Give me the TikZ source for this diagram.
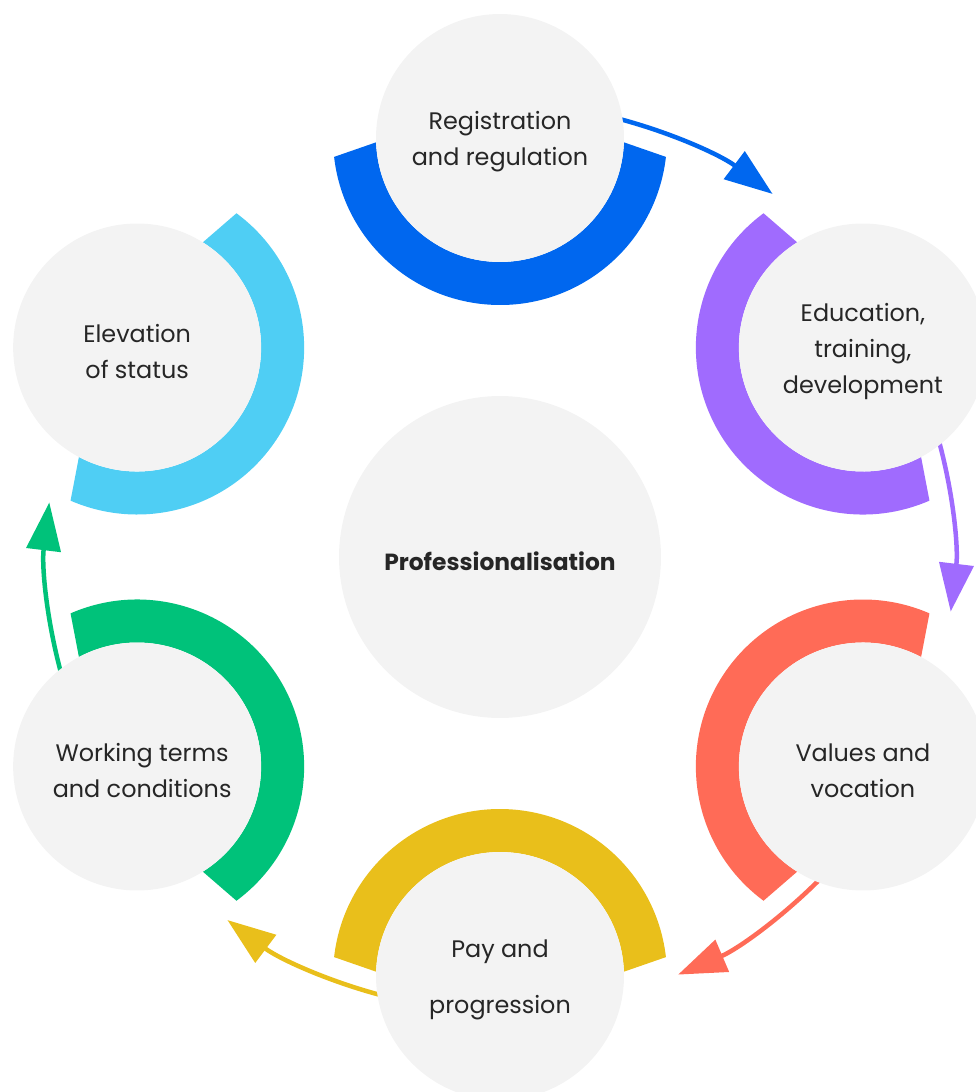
\documentclass[tikz,border=0pt]{standalone}
\usepackage{fontspec}
\setmainfont{Poppins}
\usetikzlibrary{arrows.meta,calc}

\definecolor{cblue}{HTML}{0067EF}
\definecolor{cpurple}{HTML}{A06BFE}
\definecolor{cred}{HTML}{FF6B57}
\definecolor{cyellow}{HTML}{E9BF1B}
\definecolor{cgreen}{HTML}{00C27A}
\definecolor{ccyan}{HTML}{4FCEF4}
\definecolor{discgray}{HTML}{F3F3F3}
\definecolor{ink}{HTML}{262626}

\begin{document}
\begin{tikzpicture}[x=0.02cm,y=-0.02cm,
  disc/.style={circle,fill=discgray,minimum size=4.96cm,inner sep=0pt},
  hub/.style={disc,minimum size=6.44cm},
  stagetext/.style={align=center,text=ink,inner sep=0pt,yshift=-0.08cm,
    font=\fontsize{13.6}{20.6}\selectfont},
  hubtext/.style={stagetext,font=\fontsize{13.3}{20.6}\selectfont\bfseries},
  flow/.style={line width=0.09cm,-{Triangle[length=0.96cm,width=0.68cm]}}]
\clip (0,0) rectangle (976,1092);

% centre of the cycle and the six stage positions
\coordinate (O) at (500,557);
\foreach \k in {0,...,5}{
  \pgfmathsetmacro\pos{60*\k-90}
  \coordinate (p\k) at ($(O)+(\pos:419)$);
}

% curved arrows between consecutive stages
\foreach \k/\col in {0/cblue,1/cpurple,2/cred,3/cyellow,4/cgreen}{
  \pgfmathsetmacro\a{60*\k-90+11.7}
  \pgfmathsetmacro\b{60*\k-90+36.9}
  \coordinate (s\k) at ($(O)+(\a:454)$);
  \coordinate (e\k) at ($(O)+(\b:454)$);
  \draw[flow,draw=\col] (s\k) arc[start angle=\a,end angle=\b,radius=454];
}

% coloured half rings facing the centre
\foreach \k/\col in {0/cblue,1/cpurple,2/cred,3/cyellow,4/cgreen,5/ccyan}{
  \pgfmathsetmacro\ax{60*\k+90}
  \pgfmathsetmacro\oa{\ax-83.5}
  \pgfmathsetmacro\ob{\ax+83.5}
  \pgfmathsetmacro\ia{\ax+88}
  \pgfmathsetmacro\ib{\ax-88}
  \fill[\col] ($(p\k)+(\oa:167)$) arc[start angle=\oa,end angle=\ob,radius=167]
    -- ($(p\k)+(\ia:124)$) arc[start angle=\ia,end angle=\ib,radius=124] -- cycle;
}

% stage discs
\node[disc] (reg)  at (p0) {};
\node[disc] (edu)  at (p1) {};
\node[disc] (val)  at (p2) {};
\node[disc] (pay)  at (p3) {};
\node[disc] (work) at (p4) {};
\node[disc] (elev) at (p5) {};
\node[hub]  (prof) at (O) {};

% stage labels
\node[stagetext] (reg-t)  at (reg)  {Registration\\and regulation};
\node[stagetext] (edu-t)  at (edu)  {Education,\\training,\\development};
\node[stagetext] (val-t)  at (val)  {Values and\\vocation};
\node[stagetext] (pay-t)  at (pay)  {Pay and\\[11.5pt]progression};
\node[stagetext,xshift=0.1cm] (work-t) at (work) {Working terms\\and conditions};
\node[stagetext] (elev-t) at (elev) {Elevation\\of status};
\node[hubtext]   (prof-t) at (prof) {Professionalisation};
\end{tikzpicture}
\end{document}
